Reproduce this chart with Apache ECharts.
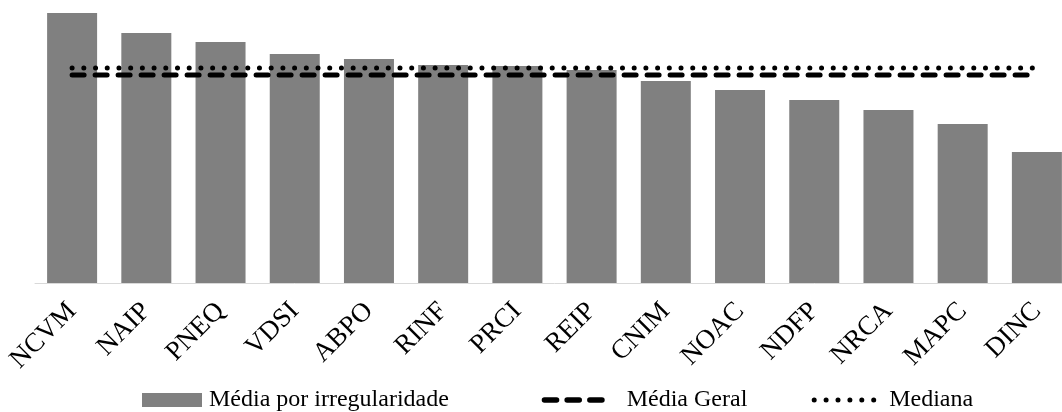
<!DOCTYPE html>
<html>
<head>
<meta charset="utf-8">
<script src="https://cdn.jsdelivr.net/npm/echarts@6/dist/echarts.min.js"></script>
<style>
  html, body { margin: 0; padding: 0; background: #fff; overflow: hidden; width: 1062px; height: 412px; }
  #chart { width: 1080px; height: 412px; }
</style>
</head>
<body>
<div id="chart"></div>
<script>
// Irregularity codes, ordered by average
const categories = ['NCVM', 'NAIP', 'PNEQ', 'VDSI', 'ABPO', 'RINF', 'PRCI', 'REIP', 'CNIM', 'NOAC', 'NDFP', 'NRCA', 'MAPC', 'DINC'];
// Average per irregularity
const mediaPorIrregularidade = [2.70, 2.50, 2.41, 2.29, 2.24, 2.18, 2.17, 2.13, 2.02, 1.93, 1.83, 1.73, 1.59, 1.31];
// Overall average and median reference levels
const mediaGeral = 2.08;
const mediana = 2.15;

const FONT = '"Liberation Serif", "Times New Roman", serif';
const mediaGeralLine = categories.map(() => mediaGeral);
const medianaLine = categories.map(() => mediana);

// Legend glyphs: three rounded dashes, six round dots
function dashIcon(n, len, gap, h) {
  const r = h / 2;
  let d = '';
  for (let i = 0; i < n; i++) {
    const x0 = i * (len + gap);
    d += `M${x0 + r} 0 H${x0 + len - r} A${r} ${r} 0 0 1 ${x0 + len - r} ${h} H${x0 + r} A${r} ${r} 0 0 1 ${x0 + r} 0 Z `;
  }
  return 'path://' + d;
}
function dotIcon(n, step, dia) {
  const r = dia / 2;
  let d = '';
  for (let i = 0; i < n; i++) {
    const cx = r + i * step;
    d += `M${cx - r} ${r} A${r} ${r} 0 1 0 ${cx + r} ${r} A${r} ${r} 0 1 0 ${cx - r} ${r} Z `;
  }
  return 'path://' + d;
}

const chart = echarts.init(document.getElementById('chart'), null, { renderer: 'canvas' });

const legendText = (pad) => ({ fontFamily: FONT, fontSize: 24, color: '#000', padding: [0, 0, 0, pad] });

chart.setOption({
  animation: false,
  backgroundColor: '#fff',
  grid: { left: 35, top: 0, width: 1039, height: 283, containLabel: false },
  xAxis: {
    type: 'category',
    data: categories,
    boundaryGap: true,
    axisLine: { show: true, lineStyle: { color: '#d9d9d9', width: 1 } },
    axisTick: { show: false },
    axisLabel: { interval: 0, rotate: 45, margin: 24, fontFamily: FONT, fontSize: 27, color: '#000' }
  },
  yAxis: { type: 'value', min: 0, max: 2.83, show: false, splitLine: { show: false } },
  legend: [
    {
      data: [{ name: 'Média por irregularidade', icon: 'rect' }],
      left: 142, top: 388, padding: 0, itemWidth: 60, itemHeight: 14,
      textStyle: legendText(2)
    },
    {
      data: [{ name: 'Média Geral', icon: dashIcon(3, 17.6, 5.1, 5.5) }],
      left: 541.7, top: 388, padding: 0, itemWidth: 63, itemHeight: 5.5,
      textStyle: legendText(17)
    },
    {
      data: [{ name: 'Mediana', icon: dotIcon(6, 11.9, 5) }],
      left: 811.7, top: 388, padding: 0, itemWidth: 64.5, itemHeight: 5,
      textStyle: legendText(8)
    }
  ],
  series: [
    {
      name: 'Média por irregularidade',
      type: 'bar',
      data: mediaPorIrregularidade,
      barWidth: 50,
      itemStyle: { color: '#808080' },
      z: 1
    },
    {
      name: 'Média Geral',
      type: 'line',
      data: mediaGeralLine,
      symbol: 'none',
      itemStyle: { color: '#000' },
      lineStyle: { color: '#000', width: 5, type: [12, 11], cap: 'round' },
      z: 3
    },
    {
      name: 'Mediana',
      type: 'line',
      data: medianaLine,
      symbol: 'none',
      itemStyle: { color: '#000' },
      lineStyle: { color: '#000', width: 5, type: [0.01, 11.7], cap: 'round' },
      z: 3
    }
  ]
});
</script>
</body>
</html>
